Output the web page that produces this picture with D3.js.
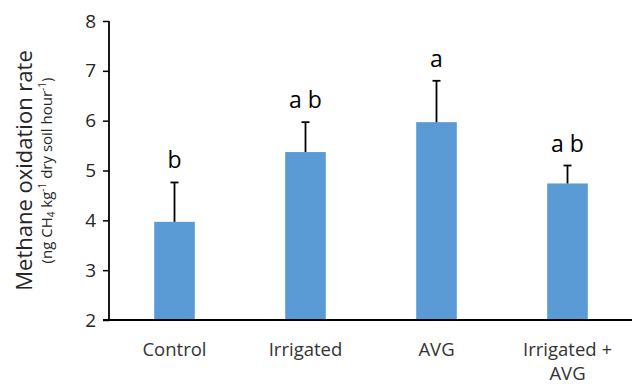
<!DOCTYPE html>
<html>
<head>
<meta charset="utf-8">
<script src="https://cdn.jsdelivr.net/npm/d3@7"></script>
<style>
  body { margin: 0; background: #fff; }
  svg { display: block; font-family: "Open Sans", sans-serif; }
</style>
</head>
<body>
<div id="chart"><svg></svg></div>
<script>
// Data
const treatments = ["Control", "Irrigated", "AVG", "Irrigated + AVG"];
const rates = [3.97, 5.37, 5.97, 4.74];
const errors = [0.79, 0.60, 0.83, 0.36];
const letters = ["b", "a b", "a", "a b"];
const yTicks = [2, 3, 4, 5, 6, 7, 8];

function drawChart() {
    var svgWidth = 632;
    var svgHeight = 384;
    var padding = {t: 21, r: -1, b: 64, l: 109};

    var chartWidth = svgWidth - padding.l - padding.r;
    var chartHeight = svgHeight - padding.t - padding.b;

    const svg = d3.select('#chart > svg')
        .attr('width', svgWidth)
        .attr('height', svgHeight);

    var chartG = svg.append('g')
        .attr('transform', 'translate(' + [padding.l, padding.t] + ')');

    var xScale = d3.scaleBand()
        .domain(treatments)
        .range([0, chartWidth])
        .paddingInner(0.69)
        .paddingOuter(0.345);

    var yScale = d3.scaleLinear()
        .domain([2, 8])
        .range([chartHeight, 0]);

    // bars
    chartG.selectAll('.bar')
        .data(treatments)
        .enter()
        .append('rect')
        .attr('class', 'bar')
        .attr('x', d => xScale(d))
        .attr('y', (d, i) => yScale(rates[i]))
        .attr('width', xScale.bandwidth())
        .attr('height', (d, i) => chartHeight - yScale(rates[i]))
        .attr('fill', '#5B9BD5');

    // upper error bars
    var capW = 4;
    var errG = chartG.selectAll('.err')
        .data(treatments)
        .enter()
        .append('g')
        .attr('class', 'err')
        .attr('stroke', '#000')
        .attr('stroke-width', 1.8);
    errG.append('line')
        .attr('x1', d => xScale(d) + xScale.bandwidth() / 2)
        .attr('x2', d => xScale(d) + xScale.bandwidth() / 2)
        .attr('y1', (d, i) => yScale(rates[i]))
        .attr('y2', (d, i) => yScale(rates[i] + errors[i]));
    errG.append('line')
        .attr('x1', d => xScale(d) + xScale.bandwidth() / 2 - capW)
        .attr('x2', d => xScale(d) + xScale.bandwidth() / 2 + capW)
        .attr('y1', (d, i) => yScale(rates[i] + errors[i]))
        .attr('y2', (d, i) => yScale(rates[i] + errors[i]));

    // significance letters
    chartG.selectAll('.letter')
        .data(treatments)
        .enter()
        .append('text')
        .attr('class', 'letter')
        .attr('x', d => xScale(d) + xScale.bandwidth() / 2)
        .attr('y', (d, i) => yScale(rates[i] + errors[i]) - 14)
        .attr('text-anchor', 'middle')
        .attr('font-size', '23px')
        .attr('fill', '#000')
        .text((d, i) => letters[i]);

    // y axis
    var yAxis = chartG.append('g')
        .attr('class', 'y axis')
        .call(d3.axisLeft(yScale).tickValues(yTicks).tickSize(6).tickPadding(7).tickFormat(d3.format('d')));
    yAxis.select('.domain').attr('d', 'M0,0V' + chartHeight).attr('stroke', '#000').attr('stroke-width', 1.8);
    yAxis.selectAll('.tick line').attr('stroke', '#000').attr('stroke-width', 1.5);
    yAxis.selectAll('.tick text')
        .attr('font-size', '19px')
        .attr('font-family', '"Open Sans", sans-serif')
        .attr('fill', '#262626');

    // x axis
    var xAxis = chartG.append('g')
        .attr('class', 'x axis')
        .attr('transform', 'translate(' + [0, chartHeight] + ')')
        .call(d3.axisBottom(xScale).tickSize(0).tickPadding(0));
    xAxis.select('.domain').attr('d', 'M-6,0H' + chartWidth).attr('stroke', '#000').attr('stroke-width', 1.8);
    xAxis.selectAll('.tick text').remove();
    xAxis.selectAll('.tick').each(function (d) {
        var parts = d === "Irrigated + AVG" ? ["Irrigated +", "AVG"] : [d];
        var t = d3.select(this).append('text')
            .attr('fill', '#333')
            .attr('font-size', '18.5px')
            .attr('font-family', '"Open Sans", sans-serif')
            .attr('text-anchor', 'middle');
        parts.forEach((p, k) => {
            t.append('tspan').attr('x', 0).attr('y', 36 + k * 24).text(p);
        });
    });

    // y axis title
    var cy = padding.t + chartHeight / 2;
    svg.append('text')
        .attr('transform', 'translate(32,' + cy + ') rotate(-90)')
        .attr('text-anchor', 'middle')
        .attr('font-size', '22px')
        .attr('fill', '#262626')
        .text('Methane oxidation rate');

    var sub = svg.append('text')
        .attr('transform', 'translate(52,' + cy + ') rotate(-90)')
        .attr('text-anchor', 'middle')
        .attr('font-size', '15px')
        .attr('fill', '#262626');
    sub.append('tspan').text('(ng CH');
    sub.append('tspan').attr('font-size', '10px').attr('dy', 3).text('4');
    sub.append('tspan').attr('dy', -3).text(' kg');
    sub.append('tspan').attr('font-size', '10px').attr('dy', -6).text('-1');
    sub.append('tspan').attr('dy', 6).text(' dry soil hour');
    sub.append('tspan').attr('font-size', '10px').attr('dy', -6).text('-1');
    sub.append('tspan').attr('dy', 6).text(')');
}

drawChart();
</script>
</body>
</html>
